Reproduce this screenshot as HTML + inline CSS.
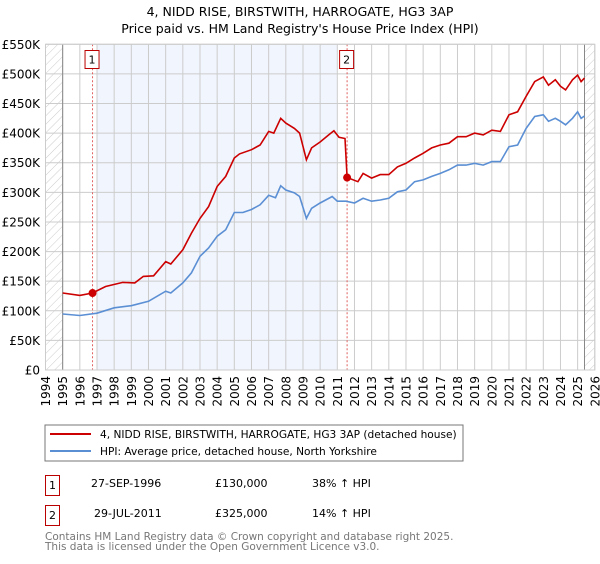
<!DOCTYPE html>
<html><head><meta charset="utf-8"><style>
body{margin:0;background:#fff;font-family:"DejaVu Sans","Liberation Sans",sans-serif;}
svg text{font-family:"DejaVu Sans","Liberation Sans",sans-serif;}
</style></head><body>
<svg id="c" width="600" height="560" xmlns="http://www.w3.org/2000/svg">
<defs><pattern id="h" width="6" height="6" patternUnits="userSpaceOnUse" patternTransform="rotate(45)"><line x1="0" y1="0" x2="0" y2="6" stroke="#ccc" stroke-width="1"/></pattern></defs>
<text x="300" y="16" text-anchor="middle" font-size="12.5">4, NIDD RISE, BIRSTWITH, HARROGATE, HG3 3AP</text>
<text x="300" y="33" text-anchor="middle" font-size="12.5">Price paid vs. HM Land Registry's House Price Index (HPI)</text>
<g id="plot"></g>
<rect x="45" y="425" width="418" height="36" fill="none" stroke="#777"/>
<line x1="50" y1="434" x2="91" y2="434" stroke="#cc0000" stroke-width="2"/>
<text x="100" y="438" font-size="10.6">4, NIDD RISE, BIRSTWITH, HARROGATE, HG3 3AP (detached house)</text>
<line x1="50" y1="451" x2="91" y2="451" stroke="#5b8fd4" stroke-width="2"/>
<text x="100" y="455" font-size="10.6">HPI: Average price, detached house, North Yorkshire</text>
<g font-size="11">
<rect x="45.5" y="475.5" width="14" height="20" fill="none" stroke="#b00"/>
<text x="52.5" y="489" text-anchor="middle">1</text>
<text x="91" y="487">27-SEP-1996</text>
<text x="215" y="487">£130,000</text>
<text x="312" y="487">38% ↑ HPI</text>
<rect x="45.5" y="505.5" width="14" height="20" fill="none" stroke="#b00"/>
<text x="52.5" y="519" text-anchor="middle">2</text>
<text x="94" y="517">29-JUL-2011</text>
<text x="215" y="517">£325,000</text>
<text x="312" y="517">14% ↑ HPI</text>
</g>
<text x="45" y="540" font-size="10.5" fill="#777">Contains HM Land Registry data © Crown copyright and database right 2025.</text>
<text x="45" y="550" font-size="10.5" fill="#777">This data is licensed under the Open Government Licence v3.0.</text>
</svg>
<script>
const yTicks=[0,50,100,150,200,250,300,350,400,450,500,550];
const yLabels=["£0","£50K","£100K","£150K","£200K","£250K","£300K","£350K","£400K","£450K","£500K","£550K"];
const xYears=[1994,1995,1996,1997,1998,1999,2000,2001,2002,2003,2004,2005,2006,2007,2008,2009,2010,2011,2012,2013,2014,2015,2016,2017,2018,2019,2020,2021,2022,2023,2024,2025,2026];
const redT=[1995,1996,1996.74,1997.5,1998.5,1999.2,1999.7,2000.3,2001,2001.3,2002,2002.5,2003,2003.5,2004,2004.5,2005,2005.3,2006,2006.5,2007,2007.3,2007.7,2008,2008.5,2008.8,2009.2,2009.5,2010,2010.5,2010.8,2011.1,2011.45,2011.57,2012.2,2012.5,2013,2013.5,2014,2014.5,2015,2015.5,2016,2016.5,2017,2017.5,2018,2018.5,2019,2019.5,2020,2020.5,2021,2021.5,2022,2022.5,2023,2023.3,2023.7,2024,2024.3,2024.7,2025,2025.2,2025.4];
const redV=[130,126,130,141,148,147,158,159,183,179,203,231,256,276,310,327,358,365,372,380,403,400,425,417,408,400,355,375,385,397,404,393,391,325,318,332,324,330,330,343,349,358,366,375,380,383,394,394,400,397,405,403,431,436,462,487,495,481,490,479,473,490,498,487,493];
const hpiT=[1995,1996,1997,1998,1999,2000,2001,2001.3,2002,2002.5,2003,2003.5,2004,2004.5,2005,2005.5,2006,2006.5,2007,2007.4,2007.7,2008,2008.5,2008.8,2009.2,2009.5,2010,2010.7,2011,2011.5,2012,2012.5,2013,2013.5,2014,2014.5,2015,2015.5,2016,2016.5,2017,2017.5,2018,2018.5,2019,2019.5,2020,2020.5,2021,2021.5,2022,2022.5,2023,2023.3,2023.7,2024,2024.3,2024.7,2025,2025.2,2025.4];
const hpiV=[94.5,92,96,105,108.5,116,133,130,147,164,192,206,226,237,266,266,271,279,295,291,311,304,299,293,256,273,282,293,285,285,282,290,285,287,290,301,304,318,321,327,332,338,346,346,349,346,352,352,377,380,408,428,431,420,425,420,414,425,436,425,429];
const saleT=[1996.74,2011.57];
const saleV=[130,325];

const NS="http://www.w3.org/2000/svg";
const L=45.5,R=594.8,T=44.3,B=370;
const X=t=>L+(t-1994)*(R-L)/32;
const Y=v=>B-v*(B-T)/550;
const g=document.getElementById('plot');
function mk(tag,a){const e=document.createElementNS(NS,tag);for(const k in a)e.setAttribute(k,a[k]);g.appendChild(e);return e;}
let e;
e=mk('rect',{x:X(1997),y:T,width:X(2011)-X(1997),height:B-T,fill:'#eef3fc',opacity:0.8});


e=mk('rect',{x:L,y:T,width:X(1995)-L,height:B-T,fill:'url(#h)'});


e=mk('rect',{x:X(2025.4),y:T,width:R-X(2025.4),height:B-T,fill:'url(#h)'});


xYears.forEach((yr,i)=>{
 e=mk('line',{x1:X(yr),x2:X(yr),y1:T,y2:B,stroke:'#ccc','stroke-width':1});
 
 
 e=mk('text',{x:0,y:0,'font-size':12,'text-anchor':'end',transform:`translate(${X(yr)+4.5},${B+6}) rotate(-90)`});
 e.textContent=yr;
 
 
});
yTicks.forEach((v,i)=>{
 e=mk('line',{x1:L,x2:R,y1:Y(v),y2:Y(v),stroke:'#ccc','stroke-width':1});
 
 
 e=mk('text',{x:40,y:Y(v)+4.5,'font-size':12,'text-anchor':'end'});
 e.textContent=yLabels[i];
 
 
});
e=mk('line',{x1:X(1995),x2:X(1995),y1:T,y2:B,stroke:'#888'});


e=mk('line',{x1:X(2025.4),x2:X(2025.4),y1:T,y2:B,stroke:'#888'});


saleT.forEach((t,i)=>{
 e=mk('line',{x1:X(t),x2:X(t),y1:T,y2:B,stroke:'#e06060','stroke-dasharray':'2,2'});
 
 
 e=mk('rect',{x:X(t)-7.5,y:50.5,width:14,height:18,fill:'#fff',stroke:'#b00'});
 
 
 e=mk('text',{x:X(t)-0.5,y:63.5,'font-size':11,'text-anchor':'middle'});
 e.textContent=String(i+1);
 
 
});
e=mk('path',{d:hpiT.map((t,i)=>(i?'L':'M')+X(t).toFixed(1)+','+Y(hpiV[i]).toFixed(1)).join(''),fill:'none',stroke:'#5b8fd4','stroke-width':1.6});


e=mk('path',{d:redT.map((t,i)=>(i?'L':'M')+X(t).toFixed(1)+','+Y(redV[i]).toFixed(1)).join(''),fill:'none',stroke:'#cc0000','stroke-width':1.6});


saleT.forEach((t,i)=>{
 e=mk('circle',{cx:X(t),cy:Y(saleV[i]),r:4,fill:'#cc0000'});
 
 
});
e=mk('rect',{x:L,y:T,width:R-L,height:B-T,fill:'none',stroke:'#ccc'});


</script>
</body></html>
